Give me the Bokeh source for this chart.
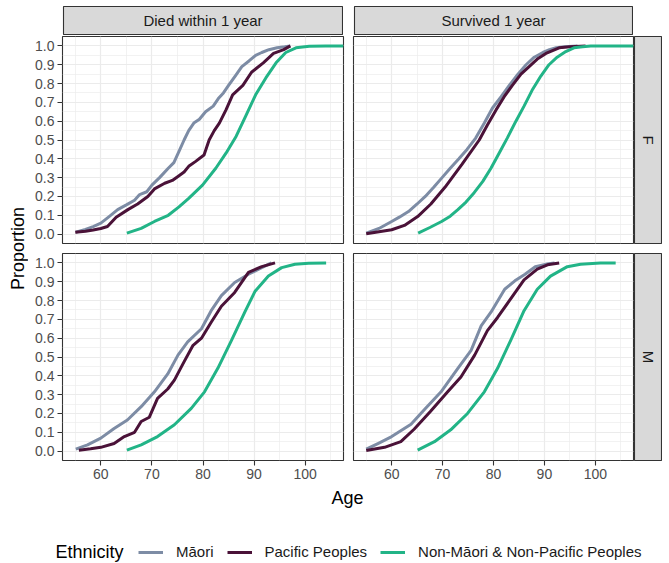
import math
from bokeh.plotting import figure
from bokeh.models import (Range1d, LinearAxis, Grid, FixedTicker, PrintfTickFormatter,
                          Label, Legend, LegendItem, Spacer)
from bokeh.layouts import row, column
from bokeh.embed import file_html
from bokeh.resources import INLINE

# ---------------- data ----------------
groups = ["Māori", "Pacific Peoples", "Non-Māori & Non-Pacific Peoples"]
colors = ["#7d8ca5", "#4a1238", "#22b487"]
col_labels = ["Died within 1 year", "Survived 1 year"]
row_labels = ["F", "M"]

x_major = [60, 70, 80, 90, 100]
x_minor = [55, 65, 75, 85, 95, 105]
y_major = [0.0, 0.1, 0.2, 0.3, 0.4, 0.5, 0.6, 0.7, 0.8, 0.9, 1.0]
y_minor = [0.05, 0.15, 0.25, 0.35, 0.45, 0.55, 0.65, 0.75, 0.85, 0.95]

# F, Died within 1 year
f_died_maori_x = [55.1, 57, 58.5, 60, 61.5, 63.3, 65, 66.6, 67.6, 69, 70, 71.5, 73.2, 74.3, 75.3, 76.3,
                  77.2, 78.2, 79.3, 80.5, 82, 83, 84, 85, 86.3, 87.6, 89, 90.3, 91.5, 92.9, 94.5, 96, 97.1]
f_died_maori_y = [0.01, 0.025, 0.04, 0.058, 0.09, 0.13, 0.155, 0.18, 0.21, 0.225, 0.26, 0.30, 0.35, 0.38,
                  0.44, 0.50, 0.55, 0.59, 0.61, 0.65, 0.68, 0.72, 0.75, 0.79, 0.84, 0.89, 0.92, 0.95,
                  0.965, 0.98, 0.99, 0.995, 1.0]
f_died_pac_x = [55, 57, 58.5, 60, 61.3, 63, 65.3, 67.2, 69.2, 70.5, 72.5, 74, 75.3, 76.3, 77.2, 78.5,
                80.2, 81.2, 82.2, 83.2, 84.5, 85.8, 87.8, 89.5, 91.8, 93.8, 95.8, 97.1]
f_died_pac_y = [0.01, 0.015, 0.022, 0.03, 0.04, 0.09, 0.13, 0.16, 0.2, 0.24, 0.27, 0.285, 0.31, 0.33,
                0.36, 0.385, 0.42, 0.5, 0.55, 0.59, 0.66, 0.74, 0.79, 0.86, 0.91, 0.96, 0.98, 1.0]
f_died_non_x = [65.1, 67.9, 70.5, 73.2, 75.3, 77.2, 79.9, 82.5, 84.5, 86.5, 88.4, 90.3, 92.3, 94.3,
                96.2, 98.2, 100.8, 104, 107.5]
f_died_non_y = [0.005, 0.03, 0.067, 0.10, 0.145, 0.19, 0.26, 0.35, 0.43, 0.52, 0.63, 0.74, 0.83, 0.91,
                0.965, 0.99, 0.998, 1.0, 1.0]

# F, Survived 1 year
f_surv_maori_x = [55, 57.5, 60, 61.5, 63.3, 65, 66.6, 68.3, 69.9, 71.5, 73.2, 74.8, 76.5, 78.2, 79.8,
                  81.5, 83.1, 84.8, 86.4, 88, 89.7, 91, 92.3, 94, 96.5]
f_surv_maori_y = [0.005, 0.03, 0.067, 0.09, 0.12, 0.16, 0.2, 0.25, 0.30, 0.35, 0.40, 0.45, 0.51, 0.59,
                  0.67, 0.73, 0.79, 0.85, 0.90, 0.94, 0.965, 0.98, 0.99, 0.995, 1.0]
f_surv_pac_x = [55, 57.5, 60, 62.5, 65.1, 67.7, 70.5, 73.8, 77.2, 78.8, 80.5, 82.1, 83.7, 85.4, 87,
                88.6, 90.3, 92.9, 95, 98.1]
f_surv_pac_y = [0.002, 0.012, 0.023, 0.046, 0.093, 0.16, 0.25, 0.37, 0.50, 0.58, 0.66, 0.73, 0.79,
                0.85, 0.89, 0.93, 0.96, 0.99, 0.995, 1.0]
f_surv_non_x = [65.2, 67.5, 69.8, 71.5, 73, 74.6, 76.2, 77.9, 79.5, 81.1, 82.7, 84.4, 86, 87.7, 89.3,
                90.9, 92.5, 94.2, 95.8, 97.5, 99.1, 103, 107.5]
f_surv_non_y = [0.005, 0.035, 0.067, 0.095, 0.13, 0.17, 0.22, 0.28, 0.35, 0.43, 0.51, 0.60, 0.68,
                0.77, 0.84, 0.90, 0.94, 0.97, 0.99, 0.995, 1.0, 1.0, 1.0]

# M, Died within 1 year
m_died_maori_x = [55.1, 57.4, 60, 62.6, 65.2, 67.9, 70.5, 73.1, 75.1, 77, 79.7, 81.6, 83.6, 86.2,
                  88.9, 91.5, 93.4]
m_died_maori_y = [0.01, 0.033, 0.069, 0.12, 0.165, 0.236, 0.315, 0.41, 0.51, 0.58, 0.65, 0.746,
                  0.826, 0.896, 0.94, 0.975, 1.0]
m_died_pac_x = [55.7, 58, 60, 62.6, 64.6, 66.6, 67.9, 69.5, 71.1, 73.1, 74.4, 76.1, 78, 79.7, 81.6,
                83.6, 86.2, 88.9, 91.5, 94.1]
m_died_pac_y = [0.005, 0.012, 0.02, 0.04, 0.077, 0.10, 0.157, 0.18, 0.28, 0.33, 0.377, 0.465, 0.56,
                0.60, 0.685, 0.77, 0.843, 0.95, 0.98, 1.0]
m_died_non_x = [65.1, 67.9, 71.1, 74.4, 77.7, 80.3, 82.9, 85.6, 88.2, 90.2, 92.8, 95.4, 98, 100.7, 104.1]
m_died_non_y = [0.005, 0.033, 0.077, 0.14, 0.227, 0.315, 0.44, 0.59, 0.74, 0.85, 0.93, 0.975, 0.993,
                0.998, 1.0]

# M, Survived 1 year
m_surv_maori_x = [55, 57.3, 60, 63.8, 66.4, 69.7, 73, 75.6, 77.6, 79.5, 82.2, 84.2, 86.2, 88.2, 90.8, 92]
m_surv_maori_y = [0.01, 0.04, 0.077, 0.143, 0.22, 0.315, 0.44, 0.535, 0.667, 0.738, 0.86, 0.905, 0.94,
                  0.98, 0.996, 1.0]
m_surv_pac_x = [55, 58.6, 61.8, 64.4, 67.6, 71, 73.6, 76.3, 78.8, 80.8, 83.4, 86, 88.6, 90.6, 92.9]
m_surv_pac_y = [0.003, 0.02, 0.05, 0.116, 0.21, 0.315, 0.394, 0.51, 0.64, 0.71, 0.81, 0.91, 0.967,
                0.99, 1.0]
m_surv_non_x = [65.1, 68.4, 71.6, 74.9, 78.2, 80.8, 83.4, 86, 88.6, 91.2, 94.5, 97.1, 101, 104]
m_surv_non_y = [0.005, 0.05, 0.113, 0.2, 0.315, 0.44, 0.59, 0.746, 0.86, 0.93, 0.98, 0.993, 1.0, 1.0]

panels = {
    ("F", 0): [(f_died_maori_x, f_died_maori_y), (f_died_pac_x, f_died_pac_y), (f_died_non_x, f_died_non_y)],
    ("F", 1): [(f_surv_maori_x, f_surv_maori_y), (f_surv_pac_x, f_surv_pac_y), (f_surv_non_x, f_surv_non_y)],
    ("M", 0): [(m_died_maori_x, m_died_maori_y), (m_died_pac_x, m_died_pac_y), (m_died_non_x, m_died_non_y)],
    ("M", 1): [(m_surv_maori_x, m_surv_maori_y), (m_surv_pac_x, m_surv_pac_y), (m_surv_non_x, m_surv_non_y)],
}

FONT = "Liberation Sans"
BORDER = "#333333"
NAN = float("nan")


def make_panel(series, fw, fh, left, right, top, bottom, show_x, show_y):
    p = figure(x_range=Range1d(52.5, 107.5), y_range=Range1d(-0.05, 1.05),
               frame_width=fw, frame_height=fh,
               min_border_left=left, min_border_right=right, min_border_top=top, min_border_bottom=bottom,
               x_axis_type=None, y_axis_type=None, toolbar_location=None, output_backend="svg",
               background_fill_color="white", border_fill_color="white",
               outline_line_color=BORDER, outline_line_width=1.1)
    gx = Grid(dimension=0, ticker=FixedTicker(ticks=x_major, minor_ticks=x_minor),
              grid_line_color="#ebebeb", grid_line_width=1.2,
              minor_grid_line_color="#ededed", minor_grid_line_width=0.7)
    gy = Grid(dimension=1, ticker=FixedTicker(ticks=y_major, minor_ticks=y_minor),
              grid_line_color="#ebebeb", grid_line_width=1.2,
              minor_grid_line_color="#ededed", minor_grid_line_width=0.7)
    p.add_layout(gx, "center")
    p.add_layout(gy, "center")
    for (xs, ys), c in zip(series, colors):
        p.line(xs, ys, line_color=c, line_width=3, line_join="round")
    common = dict(major_label_text_font_size="14px", major_label_text_color="#4d4d4d",
                  major_label_text_font=FONT, major_tick_line_color=BORDER, major_tick_line_width=1.1,
                  major_tick_out=5, major_tick_in=0, minor_tick_line_color=None,
                  axis_line_color=None, major_label_standoff=3)
    if show_x:
        ax = LinearAxis(ticker=FixedTicker(ticks=x_major), formatter=PrintfTickFormatter(format="%d"), **common)
        p.add_layout(ax, "below")
    if show_y:
        ay = LinearAxis(ticker=FixedTicker(ticks=y_major), formatter=PrintfTickFormatter(format="%.1f"), **common)
        p.add_layout(ay, "left")
    return p


def make_strip(text, fw, fh, left=1, right=1, top=1, bottom=1, angle=0.0):
    s = figure(x_range=Range1d(0, 1), y_range=Range1d(0, 1), frame_width=fw, frame_height=fh,
               min_border_left=left, min_border_right=right, min_border_top=top, min_border_bottom=bottom,
               x_axis_type=None, y_axis_type=None,
               toolbar_location=None, output_backend="svg",
               background_fill_color="#d9d9d9", border_fill_color="white",
               outline_line_color=BORDER, outline_line_width=1.1)
    s.add_layout(Label(x=0.5, y=0.5, text=text, text_align="center", text_baseline="middle",
                       text_font_size="15px", text_color="#1a1a1a", text_font=FONT, angle=angle))
    return s


# top strips (y 5..35)
strip_tl = make_strip(col_labels[0], 279, 28)
strip_tr = make_strip(col_labels[1], 278, 28)
top_row = row(Spacer(width=62, height=30), strip_tl, Spacer(width=10, height=30), strip_tr,
              Spacer(width=29, height=30))

tl = make_panel(panels[("F", 0)], 281, 207, 34, 5, 1, 5, False, True)
tr = make_panel(panels[("F", 1)], 280, 207, 5, 1, 1, 5, False, False)
fs = make_strip(row_labels[0], 27, 207, left=0, right=1, top=1, bottom=5, angle=-math.pi / 2)
bl = make_panel(panels[("M", 0)], 281, 207, 34, 5, 5, 26, True, True)
br = make_panel(panels[("M", 1)], 280, 207, 5, 1, 5, 26, True, False)
ms = make_strip(row_labels[1], 27, 207, left=0, right=1, top=5, bottom=26, angle=-math.pi / 2)

# y axis title
ylab = figure(x_range=Range1d(0, 28), y_range=Range1d(0, 451), frame_width=28, frame_height=451,
              min_border=0, x_axis_type=None, y_axis_type=None, toolbar_location=None,
              output_backend="svg", outline_line_color=None)
ylab.add_layout(Label(x=17, y=238, text="Proportion", angle=math.pi / 2, text_align="center",
                      text_baseline="middle", text_font_size="18px", text_color="black", text_font=FONT))

mid = row(ylab, column(row(tl, tr, fs), row(bl, br, ms)))

# bottom: x title + legend (page y 486..562)
bot = figure(x_range=Range1d(0, 662), y_range=Range1d(0, 76), frame_width=662, frame_height=76,
             min_border=0, x_axis_type=None, y_axis_type=None, toolbar_location=None,
             output_backend="svg", outline_line_color=None)
bot.add_layout(Label(x=347, y=65, text="Age", text_align="center", text_baseline="middle",
                     text_font_size="18px", text_color="black", text_font=FONT))
bot.add_layout(Label(x=55, y=11, text="Ethnicity", text_align="left", text_baseline="middle",
                     text_font_size="18px", text_color="black", text_font=FONT))
items = []
for g, c in zip(groups, colors):
    # legend key proxies only (no visible data)
    r = bot.line(x=[NAN, NAN], y=[NAN, NAN], line_color=c, line_width=3)
    items.append(LegendItem(label=g, renderers=[r]))
leg = Legend(items=items, orientation="horizontal", location=(138, 2), glyph_width=25,
             glyph_height=14, label_height=14, label_standoff=13, spacing=13, padding=0, margin=0,
             border_line_alpha=0, background_fill_alpha=0, label_text_font_size="15px",
             label_text_font=FONT, label_text_color="#1a1a1a")
bot.add_layout(leg, "center")

layout = column(Spacer(width=662, height=5), top_row, mid, bot)

open("out.html", "w").write(file_html(layout, INLINE))
